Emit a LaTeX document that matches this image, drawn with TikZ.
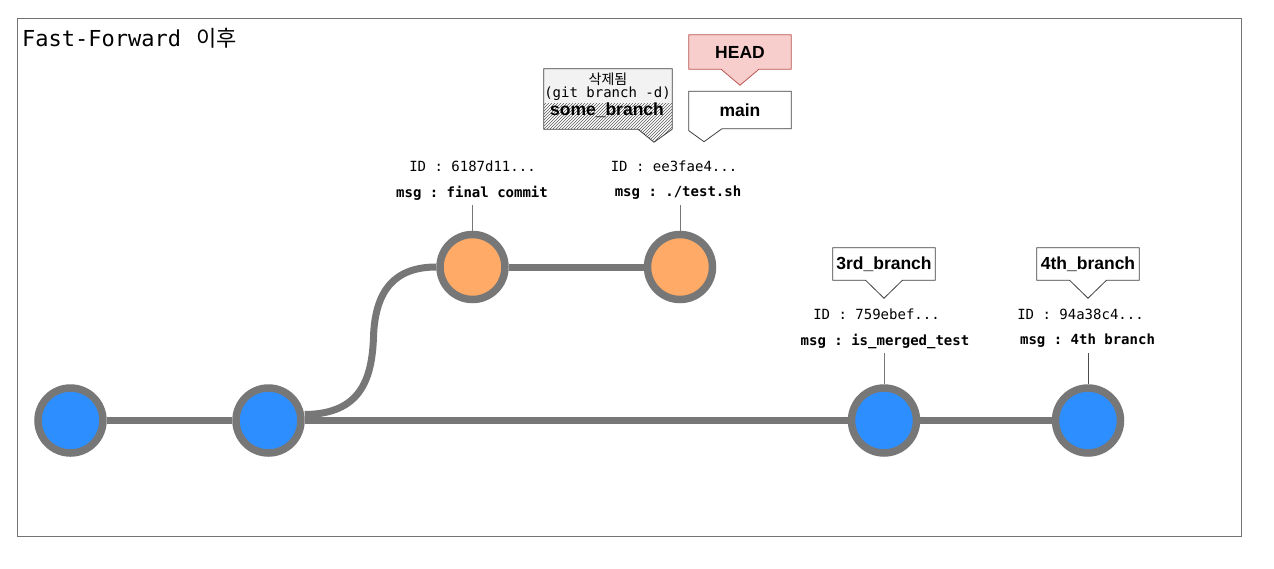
\documentclass[tikz,border=0pt]{standalone}
\usepackage{fontspec}
\setmainfont{Liberation Sans}
\setmonofont{DejaVu Sans Mono}
\newfontfamily\kr{Noto Sans CJK KR}
\usetikzlibrary{patterns,calc}
\definecolor{cblue}{RGB}{45,143,255}
\definecolor{corange}{RGB}{255,170,102}
\definecolor{cgray}{RGB}{119,119,119}
\definecolor{headfill}{RGB}{248,206,204}
\definecolor{headdraw}{RGB}{184,84,80}
\definecolor{notefill}{RGB}{242,242,242}
\pgfdeclarelayer{bg}
\pgfsetlayers{bg,main}
\tikzset{
  commit/.style={circle, draw=cgray, line width=7.5pt, minimum size=65pt, inner sep=0pt},
  bluec/.style={commit, fill=cblue},
  orangec/.style={commit, fill=corange},
  edge/.style={draw=cgray, line width=7pt},
  idtxt/.style={font=\ttfamily\fontsize{14}{16}\selectfont, inner sep=0pt},
  msgtxt/.style={font=\ttfamily\bfseries\fontsize{14}{16}\selectfont, inner sep=0pt},
  tick/.style={draw=cgray, line width=1pt},
  reftxt/.style={font=\bfseries\fontsize{17.5}{20}\selectfont, inner sep=0pt},
  callout/.style={draw=black!75, line width=0.8pt, fill=white, line join=miter},
}
\begin{document}
\begin{tikzpicture}[x=1pt,y=-1pt]
\useasboundingbox (0,0) rectangle (1274,568);
% frame
\draw[draw=black!55, line width=1pt] (17,18) rectangle (1241,536);
\node[anchor=base west, inner sep=0pt, font=\fontsize{22}{26}\selectfont] (title) at (22,46)
  {\ttfamily Fast-Forward\hspace{0.7em}{\kr\fontsize{22}{26}\selectfont 이후}};

% commits
\node[bluec] (c1) at (70.5,420.5) {};
\node[bluec] (c2) at (268.5,420.5) {};
\node[orangec] (c3) at (472.5,267) {};
\node[orangec] (c4) at (680,267) {};
\node[bluec] (c5) at (884,420.5) {};
\node[bluec] (c6) at (1088,420.5) {};

% edges
\draw[edge] (c1) -- (c2);
\draw[edge] (c2) -- (c5);
\draw[edge] (c5) -- (c6);
\draw[edge] (c3) -- (c4);
\coordinate (mid) at (373.5,337);
\draw[edge] ([yshift=6pt]c2.east) .. controls (360,414) and (372,380) .. (mid)
  .. controls (375,290) and (395,267) .. (c3.west);

% commit labels
\node[idtxt] (i3) at (472.5,166) {ID : 6187d11...};
\node[msgtxt] (m3) at (472,193) {msg : final commit};
\node[idtxt] (i4) at (674,166) {ID : ee3fae4...};
\node[msgtxt] (m4) at (678,193) {msg : ./test.sh};
\node[idtxt] (i5) at (876.5,314) {ID : 759ebef...};
\node[msgtxt] (m5) at (885,341) {msg : is\_merged\_test};
\node[idtxt] (i6) at (1080.5,314) {ID : 94a38c4...};
\node[msgtxt] (m6) at (1087.5,341) {msg : 4th branch};

\coordinate (t3) at (472.5,205);
\coordinate (t4) at (680,205);
\coordinate (t5) at (884,353);
\coordinate (t6) at (1088,353);
\draw[tick] (t3) -- (c3);
\draw[tick] (t4) -- (c4);
\draw[tick] (t5) -- (c5);
\draw[tick, draw=black!70] (t6) -- (c6);

% HEAD
\node[reftxt, minimum width=102pt, minimum height=34pt] (head) at (740,52) {HEAD};
\begin{pgfonlayer}{bg}
\draw[fill=headfill, draw=headdraw, line width=0.8pt, line join=miter]
  (head.north west) -- (head.north east) -- (head.south east)
  -- ([xshift=19pt]head.south) -- ([yshift=-16pt]head.south)
  -- ([xshift=-19pt]head.south) -- (head.south west) -- cycle;
\end{pgfonlayer}

% main
\node[reftxt, minimum width=102pt, minimum height=37pt] (main) at (740,110) {main};
\begin{pgfonlayer}{bg}
\draw[callout]
  (main.north west) -- (main.north east) -- (main.south east)
  -- ([xshift=-18pt]main.south) -- ([xshift=-36pt,yshift=-13pt]main.south)
  -- ([yshift=-2pt]main.south west) -- (main.south west) -- cycle;
\end{pgfonlayer}

% 3rd_branch
\node[reftxt, minimum width=102pt, minimum height=32pt] (b3) at (884,264) {3rd\_branch};
\begin{pgfonlayer}{bg}
\draw[callout]
  (b3.north west) -- (b3.north east) -- (b3.south east)
  -- ([xshift=18.5pt]b3.south) -- ([yshift=-18pt]b3.south)
  -- ([xshift=-18.5pt]b3.south) -- (b3.south west) -- cycle;
\end{pgfonlayer}

% 4th_branch
\node[reftxt, minimum width=102pt, minimum height=32pt] (b4) at (1088,264) {4th\_branch};
\begin{pgfonlayer}{bg}
\draw[callout]
  (b4.north west) -- (b4.north east) -- (b4.south east)
  -- ([xshift=18.5pt]b4.south) -- ([yshift=-18pt]b4.south)
  -- ([xshift=-18.5pt]b4.south) -- (b4.south west) -- cycle;
\end{pgfonlayer}

% some_branch (deleted)
\node[minimum width=128pt, minimum height=60pt, inner sep=0pt] (sb) at (608,99) {};
\begin{pgfonlayer}{bg}
\fill[pattern=north east lines, pattern color=black!65]
  (sb.north west) -- (sb.north east) -- (sb.south east)
  -- ([xshift=46pt,yshift=-13pt]sb.south) -- ([xshift=30pt]sb.south)
  -- (sb.south west) -- cycle;
\fill[notefill] (sb.north west) rectangle ([yshift=-34pt]sb.north east);
\draw[draw=black!75, line width=0.8pt, line join=miter]
  (sb.north west) -- (sb.north east) -- (sb.south east)
  -- ([xshift=46pt,yshift=-13pt]sb.south) -- ([xshift=30pt]sb.south)
  -- (sb.south west) -- cycle;
\end{pgfonlayer}
\node[inner sep=0pt, font=\kr\fontsize{14}{16}\selectfont] (del) at (608,79) {삭제됨};
\node[idtxt] (delcmd) at (607.5,94) {(git branch -d)};
\node[reftxt] (sbname) at (607,110) {some\_branch};
\end{tikzpicture}
\end{document}
